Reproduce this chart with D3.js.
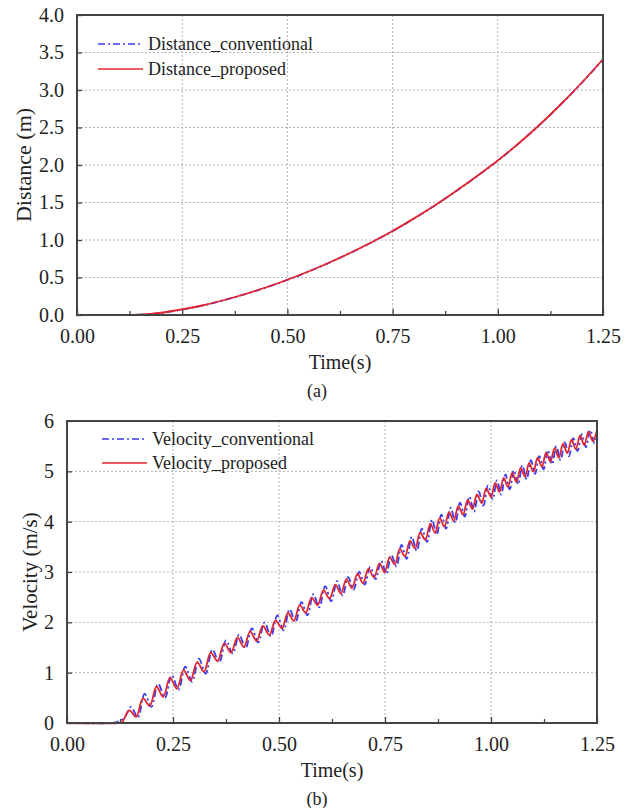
<!DOCTYPE html>
<html>
<head>
<meta charset="utf-8">
<script src="https://cdn.jsdelivr.net/npm/d3@7"></script>
<style>
  body { margin: 0; background: #fff; }
  svg text { font-family: "Liberation Serif", "Times New Roman", serif; fill: #222; }
</style>
</head>
<body>
<svg id="chart" width="636" height="808"></svg>
<script>
// ---- data ----
// (a) distance
var distTime = [0, 0.05, 0.10, 0.15, 0.20, 0.25, 0.30, 0.35, 0.40, 0.45, 0.50, 0.55, 0.60,
  0.65, 0.70, 0.75, 0.80, 0.85, 0.90, 0.95, 1.00, 1.05, 1.10, 1.15, 1.20, 1.25];
var distConv = [0, 0, 0, 0.005, 0.028, 0.073, 0.128, 0.198, 0.278, 0.368, 0.468, 0.578, 0.698,
  0.828, 0.968, 1.118, 1.283, 1.458, 1.648, 1.848, 2.058, 2.288, 2.538, 2.808, 3.098, 3.405];
var distProp = [0, 0, 0, 0.006, 0.030, 0.075, 0.130, 0.200, 0.280, 0.370, 0.470, 0.580, 0.700,
  0.830, 0.970, 1.120, 1.285, 1.460, 1.650, 1.850, 2.060, 2.290, 2.540, 2.810, 3.100, 3.410];

// (b) velocity
var velTimeConv = [0, 0.105, 0.118, 0.135, 0.151, 0.167, 0.183, 0.199, 0.215, 0.231, 0.247, 0.263,
  0.279, 0.295, 0.311, 0.327, 0.343, 0.359, 0.375, 0.391, 0.406, 0.421, 0.436, 0.451, 0.466,
  0.481, 0.496, 0.511, 0.525, 0.539, 0.553, 0.567, 0.581, 0.595, 0.609, 0.623, 0.637, 0.650,
  0.663, 0.676, 0.689, 0.702, 0.715, 0.728, 0.741, 0.753, 0.765, 0.777, 0.789, 0.801, 0.813,
  0.825, 0.837, 0.849, 0.861, 0.872, 0.883, 0.894, 0.905, 0.916, 0.927, 0.938, 0.949, 0.960,
  0.971, 0.982, 0.993, 1.004, 1.014, 1.024, 1.034, 1.044, 1.054, 1.064, 1.074, 1.084, 1.094,
  1.104, 1.114, 1.124, 1.134, 1.144, 1.154, 1.164, 1.174, 1.184, 1.194, 1.204, 1.214, 1.224,
  1.234, 1.244, 1.250];
var velConv = [0, 0, 0.02, 0.10, 0.32, 0.11, 0.58, 0.32, 0.78, 0.50, 0.95, 0.66,
  1.12, 0.82, 1.28, 0.98, 1.46, 1.20, 1.64, 1.38, 1.76, 1.48, 1.88, 1.60, 2.00,
  1.72, 2.14, 1.84, 2.26, 2.00, 2.40, 2.14, 2.56, 2.30, 2.72, 2.42, 2.82, 2.53,
  2.90, 2.65, 3.00, 2.75, 3.10, 2.86, 3.22, 2.96, 3.34, 3.11, 3.54, 3.26, 3.70,
  3.42, 3.86, 3.60, 4.04, 3.74, 4.14, 3.86, 4.28, 3.98, 4.38, 4.10, 4.50, 4.20,
  4.60, 4.32, 4.72, 4.44, 4.82, 4.54, 4.94, 4.64, 5.02, 4.74, 5.12, 4.84, 5.22,
  4.95, 5.30, 5.04, 5.42, 5.14, 5.50, 5.22, 5.58, 5.30, 5.66, 5.40, 5.74, 5.48,
  5.82, 5.56, 5.70];

var velTimeProp = [0, 0.120, 0.130, 0.147, 0.163, 0.179, 0.195, 0.211, 0.227, 0.243, 0.259, 0.275,
  0.291, 0.307, 0.323, 0.339, 0.355, 0.371, 0.387, 0.402, 0.417, 0.432, 0.447, 0.462, 0.477,
  0.492, 0.507, 0.521, 0.535, 0.549, 0.563, 0.577, 0.591, 0.605, 0.619, 0.633, 0.646, 0.659,
  0.672, 0.685, 0.698, 0.711, 0.724, 0.737, 0.749, 0.761, 0.773, 0.785, 0.797, 0.809, 0.821,
  0.833, 0.845, 0.857, 0.868, 0.879, 0.890, 0.901, 0.912, 0.923, 0.934, 0.945, 0.956, 0.967,
  0.978, 0.989, 1.000, 1.010, 1.020, 1.030, 1.040, 1.050, 1.060, 1.070, 1.080, 1.090, 1.100,
  1.110, 1.120, 1.130, 1.140, 1.150, 1.160, 1.170, 1.180, 1.190, 1.200, 1.210, 1.220, 1.230,
  1.240, 1.250];
var velProp = [0, 0, 0.02, 0.25, 0.12, 0.49, 0.34, 0.72, 0.52, 0.90, 0.68, 1.05,
  0.84, 1.21, 1.02, 1.40, 1.23, 1.58, 1.40, 1.70, 1.51, 1.82, 1.63, 1.93, 1.75,
  2.04, 1.88, 2.19, 2.03, 2.34, 2.19, 2.49, 2.34, 2.64, 2.47, 2.75, 2.57, 2.86,
  2.68, 2.96, 2.78, 3.06, 2.89, 3.17, 2.99, 3.29, 3.15, 3.46, 3.31, 3.62, 3.47,
  3.78, 3.64, 3.96, 3.78, 4.07, 3.90, 4.19, 4.02, 4.31, 4.14, 4.43, 4.25, 4.54,
  4.37, 4.66, 4.49, 4.77, 4.59, 4.87, 4.69, 4.97, 4.79, 5.07, 4.89, 5.17, 4.99,
  5.27, 5.09, 5.37, 5.19, 5.46, 5.27, 5.55, 5.36, 5.63, 5.44, 5.71, 5.52, 5.79,
  5.60, 5.82];

var xTicks = [0, 0.25, 0.5, 0.75, 1.0, 1.25];
var xMinor = [0.125, 0.375, 0.625, 0.875, 1.125];
var distTicks = [0, 0.5, 1.0, 1.5, 2.0, 2.5, 3.0, 3.5, 4.0];
var velTicks = [0, 1, 2, 3, 4, 5, 6];

var RED = "#e3262e", BLUE = "#3b3bf0";

var svg = d3.select("#chart");

function zip(ts, vs) {
  return ts.map(function (t, i) { return [t, vs[i]]; });
}

function drawPanel(opt) {
  var x = d3.scaleLinear().domain([0, 1.25]).range([opt.left, opt.right]);
  var y = d3.scaleLinear().domain(opt.yDomain).range([opt.bottom, opt.top]);
  var g = svg.append("g");

  // dotted grid
  g.append("g").selectAll("line").data(xTicks.slice(1, -1)).enter().append("line")
    .attr("x1", function (d) { return x(d); }).attr("x2", function (d) { return x(d); })
    .attr("y1", opt.top).attr("y2", opt.bottom)
    .attr("stroke", "#b4b4b4").attr("stroke-width", 1).attr("stroke-dasharray", "2,2");
  g.append("g").selectAll("line").data(opt.yTicks.slice(1, -1)).enter().append("line")
    .attr("x1", opt.left).attr("x2", opt.right)
    .attr("y1", function (d) { return y(d); }).attr("y2", function (d) { return y(d); })
    .attr("stroke", "#b4b4b4").attr("stroke-width", 1).attr("stroke-dasharray", "2,2");

  // axes
  var xAxis = g.append("g").attr("transform", "translate(0," + opt.bottom + ")")
    .call(d3.axisBottom(x).tickValues(xTicks).tickSize(-6).tickPadding(14)
      .tickFormat(d3.format(".2f")));
  g.append("g").attr("transform", "translate(0," + opt.bottom + ")")
    .call(d3.axisBottom(x).tickValues(xMinor).tickSize(-4).tickFormat(""))
    .select(".domain").remove();
  var yAxis = g.append("g").attr("transform", "translate(" + opt.left + ",0)")
    .call(d3.axisLeft(y).tickValues(opt.yTicks).tickSize(-5).tickPadding(13)
      .tickFormat(opt.yFormat));
  [xAxis, yAxis].forEach(function (a) {
    a.select(".domain").remove();
    a.selectAll("text").attr("font-size", 20).attr("fill", "#222");
  });
  xAxis.selectAll("text").attr("dy", "0.71em");
  g.selectAll(".tick line").attr("stroke", "#444").attr("stroke-width", 1.3);

  // lines
  var line = d3.line()
    .x(function (d) { return x(d[0]); })
    .y(function (d) { return y(d[1]); })
    .curve(opt.curve);
  g.append("path").datum(zip(opt.convT, opt.convV))
    .attr("fill", "none").attr("stroke", BLUE).attr("stroke-width", 1.8)
    .attr("stroke-dasharray", "7,3,2,3").attr("d", line);
  g.append("path").datum(zip(opt.propT, opt.propV))
    .attr("fill", "none").attr("stroke", RED).attr("stroke-width", 1.8)
    .attr("d", line);

  // frame
  g.append("rect").attr("x", opt.left).attr("y", opt.top)
    .attr("width", opt.right - opt.left).attr("height", opt.bottom - opt.top)
    .attr("fill", "none").attr("stroke", "#444").attr("stroke-width", 2);

  // legend
  var leg = [
    { name: opt.names[0], color: BLUE, dash: "7,3,2,3" },
    { name: opt.names[1], color: RED, dash: null }
  ];
  leg.forEach(function (d, i) {
    var ly = opt.legY + i * opt.legStep;
    g.append("line").attr("x1", opt.legX).attr("x2", opt.legX + 45)
      .attr("y1", ly).attr("y2", ly)
      .attr("stroke", d.color).attr("stroke-width", 1.6)
      .attr("stroke-dasharray", d.dash);
    g.append("text").attr("x", opt.legX + 50).attr("y", ly + 6)
      .attr("font-size", 18).text(d.name);
  });

  // titles
  var cx = (opt.left + opt.right) / 2;
  g.append("text").attr("x", cx).attr("y", opt.bottom + 54)
    .attr("text-anchor", "middle").attr("font-size", 20).text("Time(s)");
  g.append("text").attr("x", 317).attr("y", opt.bottom + 82)
    .attr("text-anchor", "middle").attr("font-size", 18).text(opt.panel);
  g.append("text")
    .attr("transform", "translate(" + opt.yTitleX + "," + (opt.top + opt.bottom) / 2 + ") rotate(-90)")
    .attr("text-anchor", "middle").attr("font-size", opt.yTitleSize).text(opt.yTitle);
}

drawPanel({
  left: 77, right: 603, top: 15, bottom: 315,
  yDomain: [0, 4], yTicks: distTicks, yFormat: d3.format(".1f"),
  convT: distTime, convV: distConv, propT: distTime, propV: distProp,
  curve: d3.curveMonotoneX,
  names: ["Distance_conventional", "Distance_proposed"],
  legX: 98, legY: 44, legStep: 25,
  panel: "(a)", yTitle: "Distance (m)", yTitleX: 31, yTitleSize: 22
});

drawPanel({
  left: 67, right: 597, top: 421, bottom: 723,
  yDomain: [0, 6], yTicks: velTicks, yFormat: d3.format("d"),
  convT: velTimeConv, convV: velConv, propT: velTimeProp, propV: velProp,
  curve: d3.curveCatmullRom.alpha(0.5),
  names: ["Velocity_conventional", "Velocity_proposed"],
  legX: 102, legY: 439, legStep: 24,
  panel: "(b)", yTitle: "Velocity (m/s)", yTitleX: 37, yTitleSize: 21
});
</script>
</body>
</html>
